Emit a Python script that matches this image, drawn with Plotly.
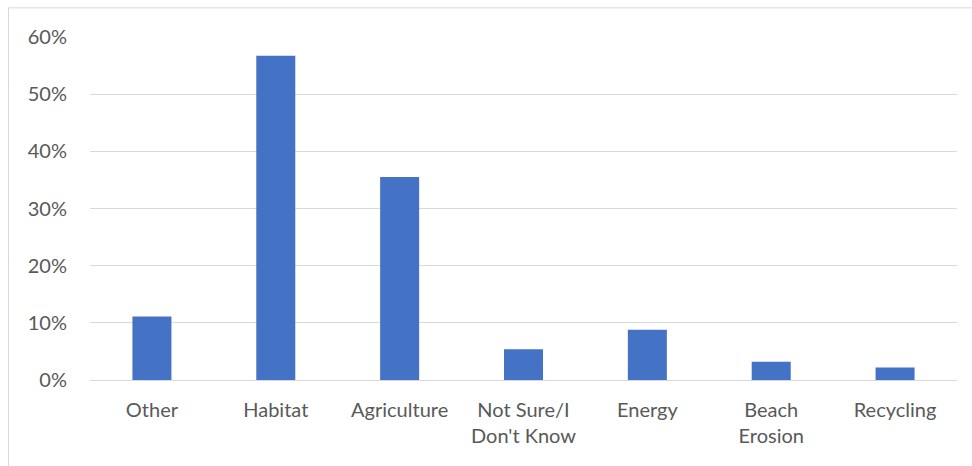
import plotly.graph_objects as go

# Survey responses: share of respondents by topic
categories = ["Other", "Habitat", "Agriculture", "Not Sure/I<br>Don't Know",
              "Energy", "Beach<br>Erosion", "Recycling"]
shares = [0.111, 0.567, 0.355, 0.054, 0.088, 0.032, 0.022]

tick_vals = [0, 0.1, 0.2, 0.3, 0.4, 0.5, 0.6]
tick_text = ["0%", "10%", "20%", "30%", "40%", "50%", "60%"]

W, H = 972, 466
L, R, T, B = 90, 15, 36.7, 86
plot_w = W - L - R
plot_h = H - T - B

fig = go.Figure(go.Bar(
    x=categories,
    y=shares,
    marker=dict(color="#4472C4", line=dict(width=0)),
))

# thin outer frame around the chart area
x0 = (8.5 - L) / plot_w
x1 = (W + 5 - L) / plot_w
y1 = (H - B - 7.5) / plot_h
y0 = (H - B - (H + 5)) / plot_h
fig.add_shape(type="rect", xref="paper", yref="paper",
              x0=x0, x1=x1, y0=y0, y1=y1,
              line=dict(color="#d9d9d9", width=1), layer="below")

fig.update_layout(
    width=W, height=H,
    margin=dict(l=L, r=R, t=T, b=B),
    paper_bgcolor="white",
    plot_bgcolor="white",
    bargap=0.685,
    showlegend=False,
    font=dict(family="Lato, Carlito, sans-serif", size=20, color="#595959"),
    xaxis=dict(
        showgrid=False, showline=False, ticks="", zeroline=False,
        ticklabelstandoff=16,
        tickfont=dict(size=20, color="#595959"),
    ),
    yaxis=dict(
        range=[0, 0.6],
        tickvals=tick_vals, ticktext=tick_text,
        showgrid=True, gridcolor="#d9d9d9", gridwidth=1.3,
        zeroline=True, zerolinecolor="#d9d9d9", zerolinewidth=1.3,
        showline=False, ticks="", ticklabelstandoff=22,
        tickfont=dict(size=20, color="#595959"),
    ),
)

fig.write_html("out.html")
